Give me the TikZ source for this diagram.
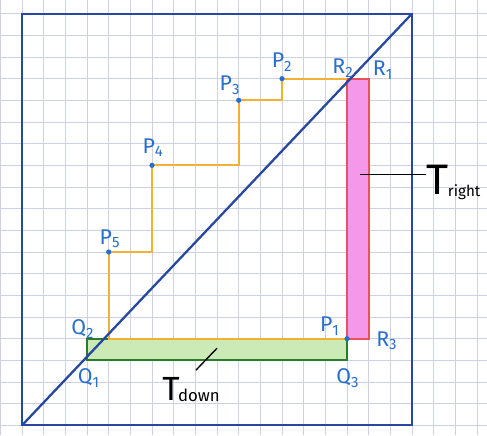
\documentclass[tikz,border=0pt]{standalone}
\usepackage{fontspec}
\setmainfont{Fira Sans}
\usetikzlibrary{positioning}
\definecolor{gridline}{RGB}{206,209,228}
\definecolor{framecol}{RGB}{38,72,158}
\definecolor{stairs}{RGB}{242,176,52}
\definecolor{ptblue}{RGB}{40,110,205}
\definecolor{downfill}{RGB}{204,234,182}
\definecolor{downedge}{RGB}{42,122,48}
\definecolor{rightfill}{RGB}{245,152,234}
\definecolor{rightedge}{RGB}{232,82,92}
\newcommand{\ptname}[2]{#1\textsubscript{#2}}
\tikzset{
  gridlines/.style={gridline, line width=0.6pt},
  frameline/.style={framecol, line width=1.5pt},
  stairline/.style={stairs, line width=1.5pt},
  pt/.style={circle, fill=ptblue, inner sep=0pt, minimum size=1.2mm},
  ptlabel/.style={text=ptblue, font=\fontsize{14}{14}\selectfont, inner sep=1pt},
  downbox/.style={draw=downedge, fill=downfill, line width=1.2pt},
  rightbox/.style={draw=rightedge, fill=rightfill, line width=1.2pt},
  leader/.style={black, line width=0.9pt},
  tlabel/.style={inner sep=0pt}
}

\begin{document}
\begin{tikzpicture}[scale=0.5]
  \useasboundingbox (-1.015,-0.46) rectangle (21.46,19.63);
  \fill[white] (-1.015,-0.46) rectangle (21.46,19.63);
  \draw[gridlines] (-1.015,-0.46) grid (21.46,19.63);
  % corners and points
  \coordinate (o) at (0,0);
  \coordinate (top) at (18,19);
  \coordinate (q1) at (3,3);
  \coordinate (q2) at (4,4);
  \coordinate (q3) at (15,3);
  \coordinate (p1) at (15,4);
  \coordinate (p5) at (4,8);
  \coordinate (c4) at (6,8);
  \coordinate (p4) at (6,12);
  \coordinate (c3) at (10,12);
  \coordinate (p3) at (10,15);
  \coordinate (c2) at (12,15);
  \coordinate (p2) at (12,16);
  \coordinate (r2) at (15,16);
  \coordinate (r1) at (16,16);
  \coordinate (r3) at (16,4);
  % the two strips
  \draw[downbox] (q1) rectangle (p1);
  \draw[rightbox] (p1) rectangle (r1);
  % staircase
  \draw[stairline] (p1) -- (q2) -- (p5) -- (c4) -- (p4) -- (c3) -- (p3) -- (c2) -- (p2) -- (r2);
  \draw[frameline] (o) rectangle (top);
  \draw[frameline] (o) -- (top);
  \foreach \i in {1,...,5} \node[pt] (dot\i) at (p\i) {};
  % labels
  \node[ptlabel] (p1lab) at (14.21,4.58) {\ptname{P}{1}};
  \node[ptlabel] (p2lab) at (12.0,16.76) {\ptname{P}{2}};
  \node[ptlabel] (p3lab) at (9.6,15.69) {\ptname{P}{3}};
  \node[ptlabel] (p4lab) at (6.05,12.82) {\ptname{P}{4}};
  \node[ptlabel] (p5lab) at (4.06,8.61) {\ptname{P}{5}};
  \node[ptlabel] (q1lab) at (3.09,2.18) {\ptname{Q}{1}};
  \node[ptlabel] (q2lab) at (2.81,4.44) {\ptname{Q}{2}};
  \node[ptlabel] (q3lab) at (15.04,2.18) {\ptname{Q}{3}};
  \node[ptlabel] (r1lab) at (16.66,16.39) {\ptname{R}{1}};
  \node[ptlabel] (r2lab) at (14.81,16.48) {\ptname{R}{2}};
  \node[ptlabel] (r3lab) at (16.84,3.89) {\ptname{R}{3}};
  % T labels with leaders
  \node[tlabel, anchor=base west] (tright) at (18.66,10.65)
    {\fontsize{28}{28}\selectfont T\kern-0.5pt\raisebox{-1pt}{\fontsize{10}{10}\selectfont right}};
  \coordinate (rin) at (15.6,11.57);
  \draw[leader] (rin) -- (tright.west |- rin);
  \node[tlabel, anchor=base west] (tdown) at (6.46,1.16)
    {\fontsize{22}{22}\selectfont T\kern-1pt\raisebox{-1pt}{\fontsize{11}{11}\selectfont down}};
  \coordinate (din) at (9.0,3.56);
  \coordinate (dout) at (8.03,2.55);
  \draw[leader] (din) -- (dout);
\end{tikzpicture}
\end{document}
